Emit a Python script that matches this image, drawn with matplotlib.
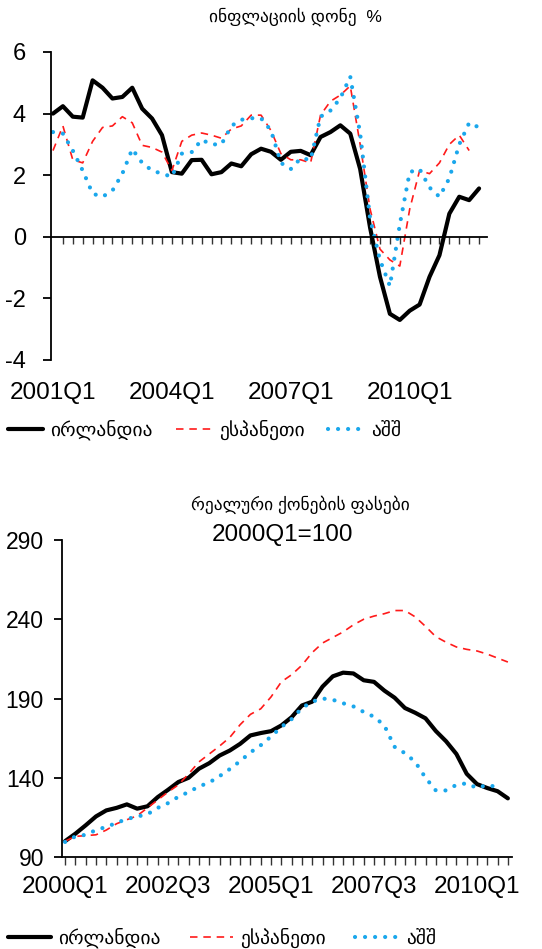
import numpy as np
import matplotlib
matplotlib.use("Agg")
import matplotlib.pyplot as plt

plt.rcParams['font.family'] = ['Liberation Sans', 'DejaVu Sans']
plt.rcParams['axes.unicode_minus'] = False

# ---------------- data ----------------
# Inflation, quarterly 2001Q1 .. 2011Q4
infl_ireland = [4.0, 4.24, 3.9, 3.87, 5.08, 4.84, 4.49, 4.54, 4.84, 4.16, 3.84, 3.3,
                2.1, 2.05, 2.49, 2.5, 2.03, 2.1, 2.38, 2.29, 2.68, 2.86, 2.76, 2.5,
                2.76, 2.79, 2.65, 3.24, 3.4, 3.62, 3.35, 2.2, 0.3, -1.3, -2.5, -2.7,
                -2.4, -2.2, -1.3, -0.6, 0.75, 1.3, 1.19, 1.57]
infl_spain = [2.8, 3.6, 2.5, 2.4, 3.1, 3.55, 3.6, 3.9, 3.7, 2.97, 2.9, 2.75,
              2.15, 3.1, 3.3, 3.37, 3.3, 3.2, 3.5, 3.6, 3.95, 3.95, 3.45, 2.7,
              2.5, 2.5, 2.4, 3.95, 4.4, 4.6, 4.9, 3.0, 0.9, -0.4, -0.75, -0.95,
              0.9, 2.15, 2.05, 2.4, 3.0, 3.3, 2.8, np.nan]
infl_usa = [3.4, 3.35, 2.8, 2.15, 1.4, 1.3, 1.5, 2.05, 2.85, 2.4, 2.15, 2.05,
            1.95, 2.7, 2.75, 3.15, 3.0, 3.0, 3.6, 3.8, 3.85, 3.85, 3.45, 2.4,
            2.2, 2.55, 2.5, 3.9, 4.1, 4.5, 5.2, 3.35, 0.6, -0.75, -1.6, 0.4,
            2.1, 2.2, 1.6, 1.3, 1.9, 3.0, 3.7, 3.55]
infl_ticklabels = {0: '2001Q1', 12: '2004Q1', 24: '2007Q1', 36: '2010Q1'}

# Real house prices, quarterly 2000Q1 .. 2010Q4 (2000Q1 = 100)
hp_ireland = [100, 104.7, 110, 115.6, 119.4, 121, 123.2, 120.5, 122, 127.8, 132.4, 137.3,
              140, 145.7, 149.2, 154, 157.2, 161.4, 166.7, 168.2, 169.4, 173, 178.2, 185.6,
              188, 197.5, 204, 206.3, 205.8, 201.5, 200.5, 195, 190.5, 184, 181, 177.5,
              169.5, 163, 155, 142.5, 136, 133.5, 131.5, 127]
hp_spain = [100, 103, 103.5, 104, 107, 111, 113.5, 116, 121, 126, 131, 135.5,
            142.5, 150, 155, 160, 165.5, 173.5, 180, 183.5, 191, 200.5, 205, 211,
            219, 225, 228.5, 232, 236.5, 240, 242, 243.5, 245.5, 245.5, 241.5, 235.5,
            229, 225.5, 222.5, 221, 220, 218, 215.5, 213]
hp_usa = [99.5, 103, 104, 107, 109, 111.5, 114, 115.5, 117, 121, 124, 128,
          131, 134.5, 137, 141, 145.5, 150.5, 156, 160.5, 166, 172, 177, 184,
          188, 190, 189.2, 187, 185, 181.5, 178.5, 173, 159.5, 155.5, 150, 140,
          132, 132, 135.5, 136.5, 133.5, 135.5, 134, np.nan]
hp_ticklabels = {0: '2000Q1', 10: '2002Q3', 20: '2005Q1', 30: '2007Q3', 40: '2010Q1'}

series_names = ['ირლანდია', 'ესპანეთი', 'აშშ']
title_top = 'ინფლაციის დონე  %'
title_bottom_1 = 'რეალური ქონების ფასები'
title_bottom_2 = '2000Q1=100'

# ---------------- styles ----------------
BLUE = '#1AA7EC'
RED = '#FF1A1A'
styles = [
    dict(color='black', lw=3.0, solid_capstyle='round', solid_joinstyle='round'),
    dict(color=RED, lw=1.2, linestyle=(0, (4.5, 3.5))),
    dict(color=BLUE, lw=3.0, linestyle=(0, (0.01, 2.4)), dash_capstyle='round'),
]

fig = plt.figure(figsize=(5.42, 9.49), dpi=100)

# ---------------- top chart ----------------
ax1 = fig.add_axes([51/542, 1-360/949, 436/542, 308/949])
x1 = np.arange(len(infl_ireland))
lines_top = []
for data, st in zip([infl_ireland, infl_spain, infl_usa], styles):
    ln, = ax1.plot(x1, data, **st)
    lines_top.append(ln)
ax1.set_xlim(-0.2, 43.8)
ax1.set_ylim(-4, 6)
ax1.set_yticks([-4, -2, 0, 2, 4, 6])
for s in ['top', 'right']:
    ax1.spines[s].set_visible(False)
ax1.spines['bottom'].set_position(('data', 0))
ax1.spines['left'].set_linewidth(1.3)
ax1.spines['bottom'].set_linewidth(1.3)
ax1.set_xticks(x1[1:])
ax1.set_xticklabels([])
ax1.tick_params(axis='x', direction='out', length=5, width=1.0, color='#333333')
ax1.tick_params(axis='y', direction='out', length=6, width=1.3, pad=12, labelsize=17)
for i, lbl in infl_ticklabels.items():
    ax1.annotate(lbl, xy=(i, 0), xycoords=('data', 'axes fraction'),
                 xytext=(0, -16), textcoords='offset points',
                 ha='center', va='top', fontsize=17.5)
ax1.text(0.56, 1.115, title_top, transform=ax1.transAxes, ha='center', va='center',
         fontsize=12.5)

fig.legend(lines_top, series_names, loc='center left', bbox_to_anchor=(0.0, 1-430/949),
           ncol=3, frameon=False, fontsize=14, handlelength=1.8, handletextpad=0.4,
           columnspacing=1.2, borderaxespad=0)

# ---------------- bottom chart ----------------
ax2 = fig.add_axes([62/542, 1-857/949, 450/542, 317/949])
x2 = np.arange(len(hp_ireland))
lines_bot = []
for data, st in zip([hp_ireland, hp_spain, hp_usa], styles):
    ln, = ax2.plot(x2, data, **st)
    lines_bot.append(ln)
ax2.set_xlim(-0.3, 43.4)
ax2.set_ylim(90, 290)
ax2.set_yticks([90, 140, 190, 240, 290])
for s in ['top', 'right']:
    ax2.spines[s].set_visible(False)
ax2.spines['left'].set_linewidth(1.3)
ax2.spines['bottom'].set_linewidth(1.3)
ax2.set_xticks(x2)
ax2.set_xticklabels([hp_ticklabels.get(i, '') for i in x2])
ax2.tick_params(axis='x', direction='out', length=6, width=1.0, color='#333333',
                pad=8, labelsize=17.5)
ax2.tick_params(axis='y', direction='out', length=6, width=1.3, pad=7, labelsize=16.5)
ax2.text(0.53, 1.11, title_bottom_1, transform=ax2.transAxes, ha='center', va='center',
         fontsize=12.5)
ax2.text(0.49, 1.015, title_bottom_2, transform=ax2.transAxes, ha='center', va='center',
         fontsize=17.5)

fig.legend(lines_bot, series_names, loc='center left', bbox_to_anchor=(0.0, 1-938/949),
           ncol=3, frameon=False, fontsize=14, handlelength=2.2, handletextpad=0.4,
           columnspacing=1.5, borderaxespad=0)

fig.savefig('out.png', dpi=100)
